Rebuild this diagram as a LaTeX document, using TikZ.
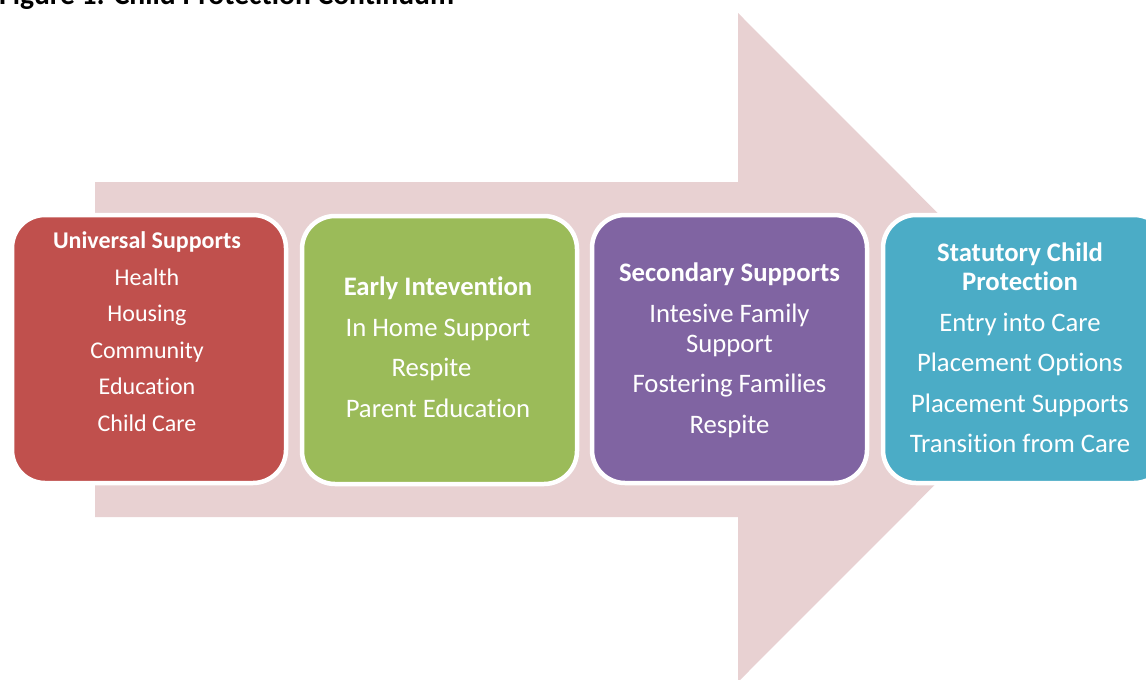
\documentclass[tikz,border=0pt]{standalone}
\usepackage{fontspec}
\setmainfont{Carlito}[Ligatures=NoCommon]
\definecolor{arrowpink}{HTML}{E8D1D2}
\definecolor{boxred}{HTML}{C0504D}
\definecolor{boxgreen}{HTML}{9BBB59}
\definecolor{boxpurple}{HTML}{8064A2}
\definecolor{boxteal}{HTML}{4BACC6}
\begin{document}
\begin{tikzpicture}[x=1pt,y=-1pt,
  stagebox/.style={draw=white, line width=4.5pt, rounded corners=33pt,
    rectangle, minimum height=268pt, inner sep=0pt},
  item/.style={anchor=base, text=white, inner sep=0pt,
    font=\fontsize{26.7}{32}\selectfont},
  head/.style={item, font=\fontsize{26.7}{32}\selectfont\bfseries},
  smallitem/.style={item, font=\fontsize{24}{29}\selectfont},
  smallhead/.style={item, font=\fontsize{24}{29}\selectfont\bfseries}]
\useasboundingbox (0,0) rectangle (1146,680);
\clip (0,0) rectangle (1146,680);

% caption, partly cut off by the top edge
\node[anchor=base west, inner sep=0pt, font=\fontsize{29.6}{35}\selectfont\bfseries]
  (title) at (-1,5) {Figure 1: Child Protection Continuum};

% the large block arrow behind the stages
\fill[arrowpink] (95,182) -- (738,182) -- (738,13) -- (1072,347.5)
  -- (738,682) -- (738,517) -- (95,517) -- cycle;

% stage boxes
\node[stagebox, fill=boxred,    minimum width=274pt] (s1) at (149,349) {};
\node[stagebox, fill=boxgreen,  minimum width=275pt] (s2) at (439.5,350) {};
\node[stagebox, fill=boxpurple, minimum width=275pt] (s3) at (729.5,349) {};
\node[stagebox, fill=boxteal,   minimum width=284pt] (s4) at (1025,349) {};

% Universal Supports
\node[smallhead] (s1h) at (147,248.5) {Universal Supports};
\foreach \t/\y [count=\i] in {Health/285, Housing/321.5, Community/358,
    Education/394.5, Child Care/431}
  \node[smallitem] (s1i\i) at (147,\y) {\t};

% Early Intervention
\node[head] (s2h) at (438,295.5) {Early Intevention};
\node[item] (s2i1) at (438,336.5) {In Home Support};
\node[item] (s2i2) at (431.5,376.5) {Respite};
\node[item] (s2i3) at (438,417) {Parent Education};

% Secondary Supports
\node[head] (s3h) at (729.5,281) {Secondary Supports};
\foreach \t/\y [count=\i] in {Intesive Family/322, Support/352,
    Fostering Families/392, Respite/433}
  \node[item] (s3i\i) at (729.5,\y) {\t};

% Statutory Child Protection
\node[head] (s4h1) at (1020,261) {Statutory Child};
\node[head] (s4h2) at (1020,290) {Protection};
\foreach \t/\y [count=\i] in {Entry into Care/331, Placement Options/371.5,
    Placement Supports/412, Transition from Care/452.5}
  \node[item] (s4i\i) at (1020,\y) {\t};
\end{tikzpicture}
\end{document}
